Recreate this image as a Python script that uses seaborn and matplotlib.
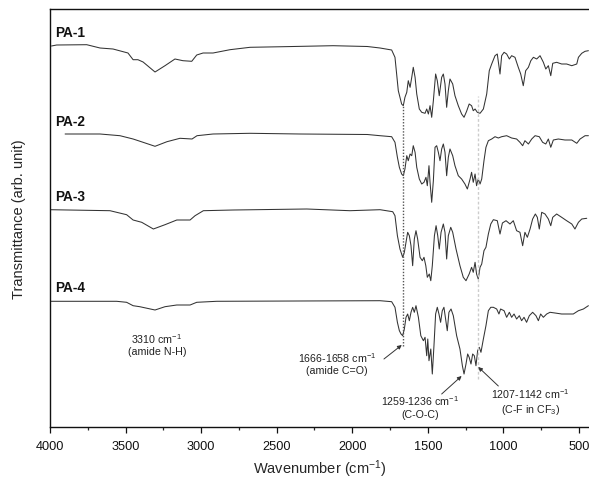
import matplotlib
matplotlib.use("Agg")
import matplotlib.pyplot as plt
import seaborn as sns
import pandas as pd
import numpy as np

# ---------------- data ----------------
samples = ["PA-1", "PA-2", "PA-3", "PA-4"]

pa1_wn = [3990, 3956, 3757, 3669, 3583, 3484, 3450, 3418, 3384, 3305, 3239, 3173, 3120, 3062, 3029, 2987,
          2921, 2809, 2676, 2458, 2127, 1900, 1816, 1739, 1717, 1706, 1695, 1673, 1662, 1651, 1639, 1629,
          1617, 1606, 1596, 1584, 1573, 1556, 1540, 1518, 1507, 1496, 1485, 1474, 1463, 1448, 1437, 1424,
          1408, 1397, 1386, 1375, 1364, 1353, 1335, 1320, 1298, 1276, 1260, 1243, 1226, 1210, 1199, 1187,
          1172, 1154, 1132, 1110, 1093, 1077, 1055, 1040, 1022, 1011, 995, 978, 960, 945, 923, 901, 885,
          868, 852, 834, 818, 801, 779, 757, 735, 719, 702, 686, 673, 647, 614, 581, 547, 514, 503, 481,
          459, 437]
pa1_t = [0, 1, 1.3, -2, -3, -7, -13.7, -13.7, -16, -26, -19.7, -13, -14.7, -15.3, -9, -7,
         -7, -3.7, -1.3, -0.7, 0.3, -0.5, -2, -4, -11.3, -28, -44.7, -58, -59.7, -51.3, -46.3, -34.7,
         -41.3, -31.3, -21.3, -31.3, -48, -63, -66.3, -67.3, -63, -68, -59.7, -71.3, -54.7, -28, -34.7, -49.7,
         -31.3, -28, -38, -61.3, -44.7, -33, -38, -49.7, -59.7, -68, -71.3, -65.3, -58, -59.7, -64.7, -63,
         -66.3, -67.3, -63, -48, -24.7, -18, -9.7, -8, -28, -9.7, -6.3, -8, -13, -9.7, -11.3, -21.3, -28,
         -39.7, -24.7, -21.3, -14.7, -11.3, -13, -9.7, -16.3, -23, -19.7, -29.7, -17.3, -16.3, -18, -18, -19.7, -18, -11.3, -7.3,
         -5.3, -4.7]

pa2_wn = [3900, 3669, 3537, 3450, 3384, 3305, 3226, 3140, 3060, 3027, 2921, 2676, 2345, 1900, 1816, 1739,
          1717, 1701, 1688, 1673, 1662, 1651, 1639, 1629, 1617, 1606, 1596, 1584, 1573, 1556, 1540, 1525,
          1512, 1503, 1492, 1485, 1474, 1463, 1452, 1441, 1430, 1419, 1408, 1397, 1386, 1375, 1364, 1353,
          1335, 1320, 1298, 1276, 1254, 1238, 1220, 1210, 1199, 1187, 1177, 1166, 1154, 1143, 1128, 1115,
          1099, 1077, 1055, 1033, 1011, 978, 945, 912, 890, 872, 857, 834, 812, 790, 762, 740, 719, 702,
          686, 669, 636, 592, 547, 514, 492, 459, 437]
pa2_t = [0, 0, -1.7, -5, -8.3, -12.3, -7.7, -4.3, -5, -1.7, 0, 0.7, 0, -0.5, -1.7, -2.7,
         -8.3, -23.3, -33.3, -40, -41.7, -35, -21.7, -26.7, -20, -21.7, -11.7, -18.3, -33.3, -45, -50, -48.3,
         -43.3, -51.7, -31.7, -48.3, -68.3, -46.7, -13.3, -11.7, -18.3, -26.7, -15, -10, -18.3, -41.7, -23.3, -15,
         -21.7, -31.7, -41.7, -45, -50, -55, -45, -38.3, -48.3, -40, -51.7, -45, -50, -45, -26.7, -13.3,
         -6.7, -5, -2.7, -4, -2.7, -1.7, -4, -5, -8.3, -11.7, -6.7, -10, -5, -1.7, -2.7, -8.3, -10, -5,
         -13.3, -6, -5, -6, -6, -9.3, -5, -1.7, -1.7]

pa3_wn = [4000, 3603, 3493, 3450, 3393, 3316, 3239, 3161, 3073, 3040, 2985, 2787, 2301, 2015, 1816, 1732,
          1717, 1701, 1684, 1666, 1655, 1644, 1633, 1622, 1611, 1600, 1589, 1578, 1567, 1551, 1536, 1525,
          1513, 1503, 1490, 1480, 1470, 1456, 1445, 1434, 1424, 1412, 1397, 1386, 1375, 1364, 1348, 1335,
          1313, 1287, 1265, 1247, 1226, 1210, 1199, 1187, 1177, 1166, 1154, 1143, 1128, 1115, 1099, 1083,
          1066, 1040, 1022, 1006, 982, 956, 934, 912, 890, 872, 857, 841, 823, 806, 788, 775, 762, 746,
          724, 702, 686, 673, 647, 614, 581, 547, 526, 503, 481, 448]
pa3_t = [0.3, -0.7, -4.7, -10, -12.3, -19, -14.7, -10, -10, -5.7, -0.7, 0, 1, -0.7, 0.3, -1.7,
         -5.7, -25.7, -39, -47.3, -42.3, -32.3, -22.3, -25.7, -35.7, -55.7, -29, -20.7, -29, -47.3, -50.7, -47.3,
         -55.7, -67.3, -64, -70.7, -55.7, -25.7, -15.7, -25.7, -39, -22.3, -14, -22.3, -49, -25.7, -17.3, -22.3,
         -39, -55.7, -67.3, -70.7, -64, -57.3, -62.3, -52.3, -64, -69, -57.3, -54, -40.7, -37.3, -24, -14,
         -9.7, -10.7, -24, -13, -10.7, -14, -10.7, -20.7, -22.3, -35.7, -22.3, -27.3, -19, -9, -4, -7.3, -19, -2.3,
         -4, -9, -15.7, -7.3, -4, -7.3, -10.7, -14, -19, -12.3, -9, -8.3]

pa4_wn = [4000, 3559, 3493, 3450, 3406, 3305, 3239, 3161, 3073, 3029, 2897, 1816, 1739, 1717, 1701, 1688,
          1677, 1666, 1655, 1644, 1633, 1622, 1611, 1600, 1589, 1578, 1562, 1546, 1529, 1518, 1507, 1500,
          1492, 1480, 1470, 1459, 1448, 1437, 1426, 1415, 1404, 1393, 1382, 1371, 1360, 1346, 1331, 1309,
          1287, 1271, 1260, 1247, 1236, 1226, 1214, 1203, 1192, 1181, 1170, 1159, 1148, 1132, 1115, 1099,
          1083, 1066, 1044, 1029, 1018, 995, 978, 960, 945, 929, 912, 894, 879, 863, 846, 828, 806, 784,
          768, 753, 735, 713, 691, 658, 614, 570, 537, 503, 470, 437]
pa4_t = [0.7, 0.7, -0.3, -3.7, -4.7, -8, -4.7, -3, -3, -0.3, 0.7, 1.3, 0.3, -5.3, -20.3, -28.7,
         -32, -33.7, -27, -15.3, -12, -18.7, -10.3, -5.3, -10.3, -3.7, -15.3, -33.7, -38.7, -35.3, -53.7, -37,
         -58.7, -47, -72, -43.7, -12, -5.3, -12, -20.3, -8.7, -5.3, -17, -28.7, -10.3, -7, -13.7, -33.7,
         -47, -63.7, -72, -62, -52, -55.3, -62, -52, -53.7, -63.7, -48.7, -45.3, -50.3, -37, -23.7, -8.7,
         -5.3, -5.3, -7, -12, -7, -8.7, -15.3, -10.3, -15.3, -12, -17, -13.7, -18.7, -15.3, -20.3, -13.7, -10.3, -13.7,
         -18.7, -12, -15.3, -12, -10.3, -11, -12, -12, -12, -8.7, -7, -3.7]

annot_texts = ["3310 cm$^{-1}$\n(amide N-H)",
               "1666-1658 cm$^{-1}$\n(amide C=O)",
               "1259-1236 cm$^{-1}$\n(C-O-C)",
               "1207-1142 cm$^{-1}$\n(C-F in CF$_3$)"]
x_ticks = [4000, 3500, 3000, 2500, 2000, 1500, 1000, 500]

# ---------------- layout / style ----------------
offsets = [381, 293, 217, 125]          # vertical stacking of the traces
label_y = [395, 306, 231, 140]
annot_pos = [(3292, 83.5), (2101, 64.5), (1551, 21), (823, 26)]
arrows = [((1790, 68), (1672, 82)), ((1408, 33), (1276, 51)), ((1033, 41), (1166, 60))]

sns.set_theme(style="ticks")
plt.rcParams["font.family"] = ["Liberation Sans", "DejaVu Sans"]
plt.rcParams["mathtext.fontset"] = "custom"
plt.rcParams["mathtext.rm"] = "Liberation Sans"
plt.rcParams["mathtext.it"] = "Liberation Sans:italic"
plt.rcParams["mathtext.bf"] = "Liberation Sans:bold"

fig = plt.figure(figsize=(5.89, 4.81), dpi=100)
ax = fig.add_axes([50 / 589, 1 - 428 / 481, 1 - 50 / 589, (428 - 10) / 481])

traces = [(pa1_wn, pa1_t), (pa2_wn, pa2_t), (pa3_wn, pa3_t), (pa4_wn, pa4_t)]
for (wn, t), off in zip(traces, offsets):
    df = pd.DataFrame({"wn": wn, "T": np.array(t) + off})
    sns.lineplot(data=df, x="wn", y="T", ax=ax, color="#333333", lw=0.75,
                 estimator=None, sort=True, legend=False)

for name, y in zip(samples, label_y):
    ax.text(3967, y, name, fontsize=9.8, fontweight="bold", ha="left", va="center", color="#111111")

# reference lines
ax.plot([1662, 1662], [81, 321], color="#555555", lw=1.0, ls=(0, (1, 1.2)))
ax.plot([1168, 1168], [48, 331], color="#cccccc", lw=1.0, ls=(0, (2, 1.5)))

for txt, (x, y) in zip(annot_texts, annot_pos):
    ax.text(x, y, txt, fontsize=7.7, ha="center", va="center", color="#222222", linespacing=1.2)
for (tail, tip) in arrows:
    ax.annotate("", xy=tip, xytext=tail,
                arrowprops=dict(arrowstyle="-|>", color="#333333", lw=0.7,
                                mutation_scale=6, shrinkA=0, shrinkB=0))

ax.set_xlim(4000, 433)
ax.set_ylim(0, 418)
ax.set_xticks(x_ticks)
ax.set_xticklabels([str(v) for v in x_ticks], fontsize=9.2)
ax.set_xticks([3750, 3250, 2750, 2250, 1750, 1250, 750], minor=True)
ax.tick_params(axis="x", which="major", direction="out", length=4, width=0.9, pad=5, colors="#111111")
ax.tick_params(axis="x", which="minor", direction="out", length=2.5, width=0.9)
ax.set_yticks([])
ax.set_xlabel("Wavenumber (cm$^{-1}$)", fontsize=10.5, labelpad=4)
ax.set_ylabel("Transmittance (arb. unit)", fontsize=10.5, labelpad=17)
ax.spines["right"].set_visible(False)
for s in ["left", "top", "bottom"]:
    ax.spines[s].set_linewidth(1.0)
    ax.spines[s].set_color("#111111")

fig.savefig("out.png", dpi=100)
